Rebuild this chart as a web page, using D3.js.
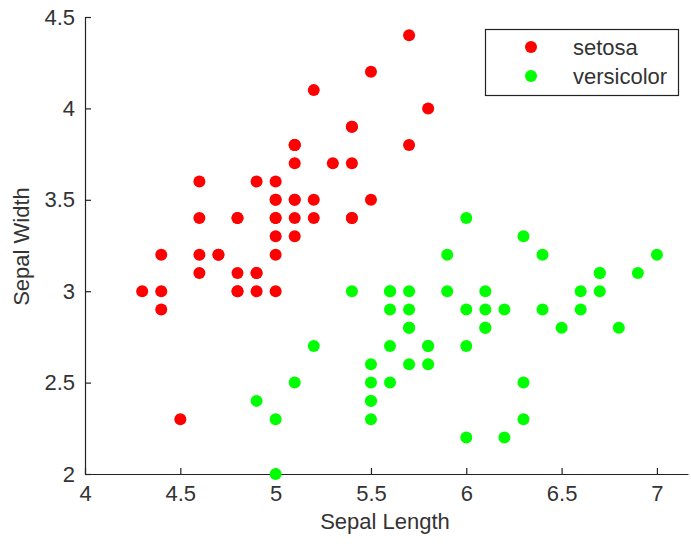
<!DOCTYPE html>
<html>
<head>
<meta charset="utf-8">
<script src="https://cdn.jsdelivr.net/npm/d3@7"></script>
<style>
  html, body { margin: 0; padding: 0; background: #fff; }
  svg { display: block; font-family: "Liberation Sans", Arial, sans-serif; }
</style>
</head>
<body>
<svg id="chart" width="691" height="549"></svg>
<script>
// Iris sepal measurements: setosa and versicolor
const setosaLength = [5.1,4.9,4.7,4.6,5.0,5.4,4.6,5.0,4.4,4.9,5.4,4.8,4.8,4.3,5.8,5.7,5.4,5.1,5.7,5.1,5.4,5.1,4.6,5.1,4.8,5.0,5.0,5.2,5.2,4.7,4.8,5.4,5.2,5.5,4.9,5.0,5.5,4.9,4.4,5.1,5.0,4.5,4.4,5.0,5.1,4.8,5.1,4.6,5.3,5.0];
const setosaWidth  = [3.5,3.0,3.2,3.1,3.6,3.9,3.4,3.4,2.9,3.1,3.7,3.4,3.0,3.0,4.0,4.4,3.9,3.5,3.8,3.8,3.4,3.7,3.6,3.3,3.4,3.0,3.4,3.5,3.4,3.2,3.1,3.4,4.1,4.2,3.1,3.2,3.5,3.6,3.0,3.4,3.5,2.3,3.2,3.5,3.8,3.0,3.8,3.2,3.7,3.3];
const versicolorLength = [7.0,6.4,6.9,5.5,6.5,5.7,6.3,4.9,6.6,5.2,5.0,5.9,6.0,6.1,5.6,6.7,5.6,5.8,6.2,5.6,5.9,6.1,6.3,6.1,6.4,6.6,6.8,6.7,6.0,5.7,5.5,5.5,5.8,6.0,5.4,6.0,6.7,6.3,5.6,5.5,5.5,6.1,5.8,5.0,5.6,5.7,5.7,6.2,5.1,5.7];
const versicolorWidth  = [3.2,3.2,3.1,2.3,2.8,2.8,3.3,2.4,2.9,2.7,2.0,3.0,2.2,2.9,2.9,3.1,3.0,2.7,2.2,2.5,3.2,2.8,2.5,2.8,2.9,3.0,2.8,3.0,2.9,2.6,2.4,2.4,2.7,2.7,3.0,3.4,3.1,2.3,3.0,2.5,2.6,3.0,2.6,2.3,2.7,3.0,2.9,2.9,2.5,2.8];

const seriesNames = ["setosa", "versicolor"];
const seriesColors = ["#ff0000", "#00ff00"];
const xTicks = [4, 4.5, 5, 5.5, 6, 6.5, 7];
const yTicks = [2, 2.5, 3, 3.5, 4, 4.5];
const xLabel = "Sepal Length";
const yLabel = "Sepal Width";

const series = [
  { name: seriesNames[0], color: seriesColors[0], xs: setosaLength, ys: setosaWidth },
  { name: seriesNames[1], color: seriesColors[1], xs: versicolorLength, ys: versicolorWidth }
];

const svg = d3.select("#chart");
const plot = { left: 85, right: 688, top: 17, bottom: 474 };
const ink = "#222";
const textInk = "#333";
const fontSize = 22;
const markerR = 6;

const x = d3.scaleLinear().domain([4, 7.163]).range([plot.left, plot.right]);
const y = d3.scaleLinear().domain([2, 4.5]).range([plot.bottom, plot.top]);

// Axes with inward ticks
const xAxis = d3.axisBottom(x).tickValues(xTicks).tickFormat(d3.format("")).tickSize(-6).tickPadding(11).tickSizeOuter(0);
const yAxis = d3.axisLeft(y).tickValues(yTicks).tickFormat(d3.format("")).tickSize(-6).tickPadding(10).tickSizeOuter(0);

const gx = svg.append("g").attr("transform", `translate(0,${plot.bottom})`).call(xAxis);
const gy = svg.append("g").attr("transform", `translate(${plot.left},0)`).call(yAxis);

[gx, gy].forEach(g => {
  g.selectAll("path.domain").attr("stroke", ink).attr("stroke-width", 1.2);
  g.selectAll(".tick line").attr("stroke", ink).attr("stroke-width", 1.2);
  g.selectAll(".tick text")
    .attr("fill", textInk)
    .style("font-size", fontSize + "px")
    .style("font-family", "'Liberation Sans', Arial, sans-serif");
});

// Axis titles
svg.append("text")
  .attr("x", (x(4) + x(7)) / 2 + 14)
  .attr("y", 529)
  .attr("text-anchor", "middle")
  .attr("fill", textInk)
  .style("font-size", fontSize + "px")
  .text(xLabel);

svg.append("text")
  .attr("transform", `translate(29,${(plot.top + plot.bottom) / 2 + 1}) rotate(-90)`)
  .attr("text-anchor", "middle")
  .attr("fill", textInk)
  .style("font-size", fontSize + "px")
  .text(yLabel);

// Scatter points
series.forEach(s => {
  svg.append("g")
    .selectAll("circle")
    .data(s.xs.map((v, i) => [v, s.ys[i]]))
    .join("circle")
    .attr("cx", d => x(d[0]))
    .attr("cy", d => y(d[1]))
    .attr("r", markerR)
    .attr("fill", s.color);
});

// Legend
const legend = svg.append("g").attr("transform", "translate(485,29)");
legend.append("rect")
  .attr("x", 0.5).attr("y", 0.5)
  .attr("width", 193).attr("height", 66)
  .attr("fill", "#fff")
  .attr("stroke", ink)
  .attr("stroke-width", 1.2);

series.forEach((s, i) => {
  const row = legend.append("g").attr("transform", `translate(0,${18 + i * 29})`);
  row.append("circle").attr("cx", 46).attr("cy", 0).attr("r", markerR).attr("fill", s.color);
  row.append("text")
    .attr("x", 88)
    .attr("y", 0)
    .attr("dy", "0.36em")
    .attr("fill", textInk)
    .style("font-size", fontSize + "px")
    .text(s.name);
});
</script>
</body>
</html>
